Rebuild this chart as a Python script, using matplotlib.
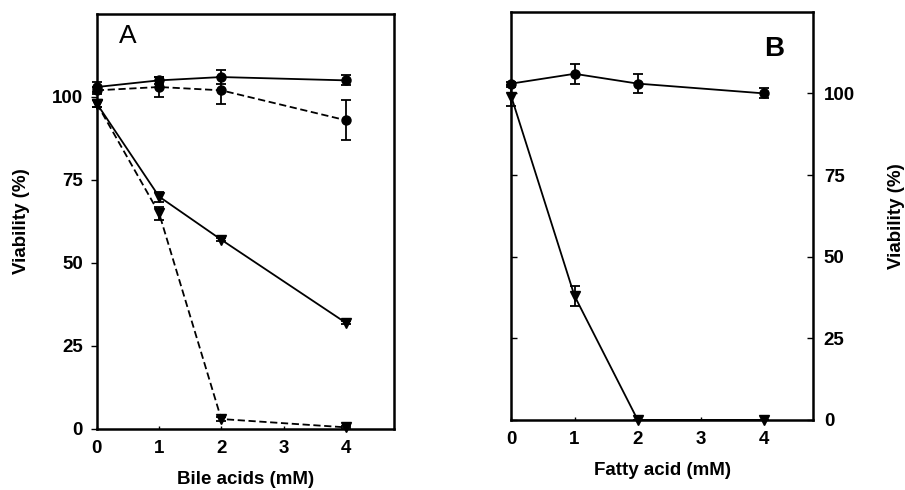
import matplotlib
matplotlib.use("Agg")
import matplotlib.pyplot as plt

# set default font
matplotlib.rcParams.update({"font.family": ["Liberation Sans", "DejaVu Sans"],
                            "font.size": 13, "font.weight": "bold",
                            "axes.labelweight": "bold"})

# panel A: bile acids
conc_a = [0, 1, 2, 4]
a_circ_solid = [103, 105, 106, 105]
a_circ_solid_err = [1.5, 1, 2, 1.5]
a_circ_dash = [102, 103, 102, 93]
a_circ_dash_err = [1, 3, 4, 6]
a_tri_solid = [98, 70, 57, 32]
a_tri_solid_err = [1, 1.5, 0.5, 0.5]
a_tri_dash = [98, 65, 3, 0.5]
a_tri_dash_err = [1, 2, 0.5, 0.3]

# panel B: fatty acid
conc_b = [0, 1, 2, 4]
b_circ = [103, 106, 103, 100]
b_circ_err = [0.5, 3, 3, 1.5]
b_tri = [99, 38, 0, 0]
b_tri_err = [3, 3, 0, 0]

yticks = [0, 25, 50, 75, 100]
xticks = [0, 1, 2, 3, 4]

fig = plt.figure(figsize=(9.05, 4.9), dpi=100)
axA = fig.add_axes([0.107, 0.1245, 0.328, 0.847])
axB = fig.add_axes([0.565, 0.143, 0.333, 0.833])


def series(ax, x, y, err, marker, ls, ms):
    ax.errorbar(x, y, yerr=err, color="k", marker=marker, ms=ms, ls=ls,
                lw=1.3, elinewidth=1.3, capsize=3.5, capthick=1.3,
                clip_on=False, zorder=3)


series(axA, conc_a, a_circ_solid, a_circ_solid_err, "o", "-", 6.5)
series(axA, conc_a, a_circ_dash, a_circ_dash_err, "o", (0, (4, 2)), 6.5)
series(axA, conc_a, a_tri_solid, a_tri_solid_err, "v", "-", 6.5)
series(axA, conc_a, a_tri_dash, a_tri_dash_err, "v", (0, (4, 2)), 6.5)

series(axB, conc_b, b_circ, b_circ_err, "o", "-", 6.5)
series(axB, conc_b, b_tri, b_tri_err, "v", "-", 6.5)

# format axes
for ax in (axA, axB):
    ax.set_xlim(0, 4.77)
    ax.set_ylim(0, 125)
    ax.set_xticks(xticks)
    ax.set_yticks(yticks)
    for s in ax.spines.values():
        s.set_linewidth(1.8)
    ax.tick_params(labelsize=13.5)

axA.tick_params(axis="y", direction="out", length=4, width=1, pad=6)
axA.tick_params(axis="x", direction="in", length=2, width=1, pad=8)
axA.set_xlabel("Bile acids (mM)", fontsize=13.5, labelpad=10)
axA.set_ylabel("Viability (%)", fontsize=13.5, labelpad=16)
axA.text(0.075, 0.975, "A", transform=axA.transAxes, fontsize=19,
         fontweight="normal", va="top", ha="left")

axB.yaxis.tick_right()
axB.yaxis.set_label_position("right")
axB.tick_params(axis="y", which="both", direction="in", length=4, width=1,
                pad=8, left=True)
axB.tick_params(axis="x", direction="in", length=2, width=1, pad=8)
axB.set_xlabel("Fatty acid (mM)", fontsize=13.5, labelpad=10)
axB.set_ylabel("Viability (%)", fontsize=13.5, labelpad=24)
axB.text(0.84, 0.94, "B", transform=axB.transAxes, fontsize=20,
         va="top", ha="left")

plt.savefig("out.png", dpi=100)
